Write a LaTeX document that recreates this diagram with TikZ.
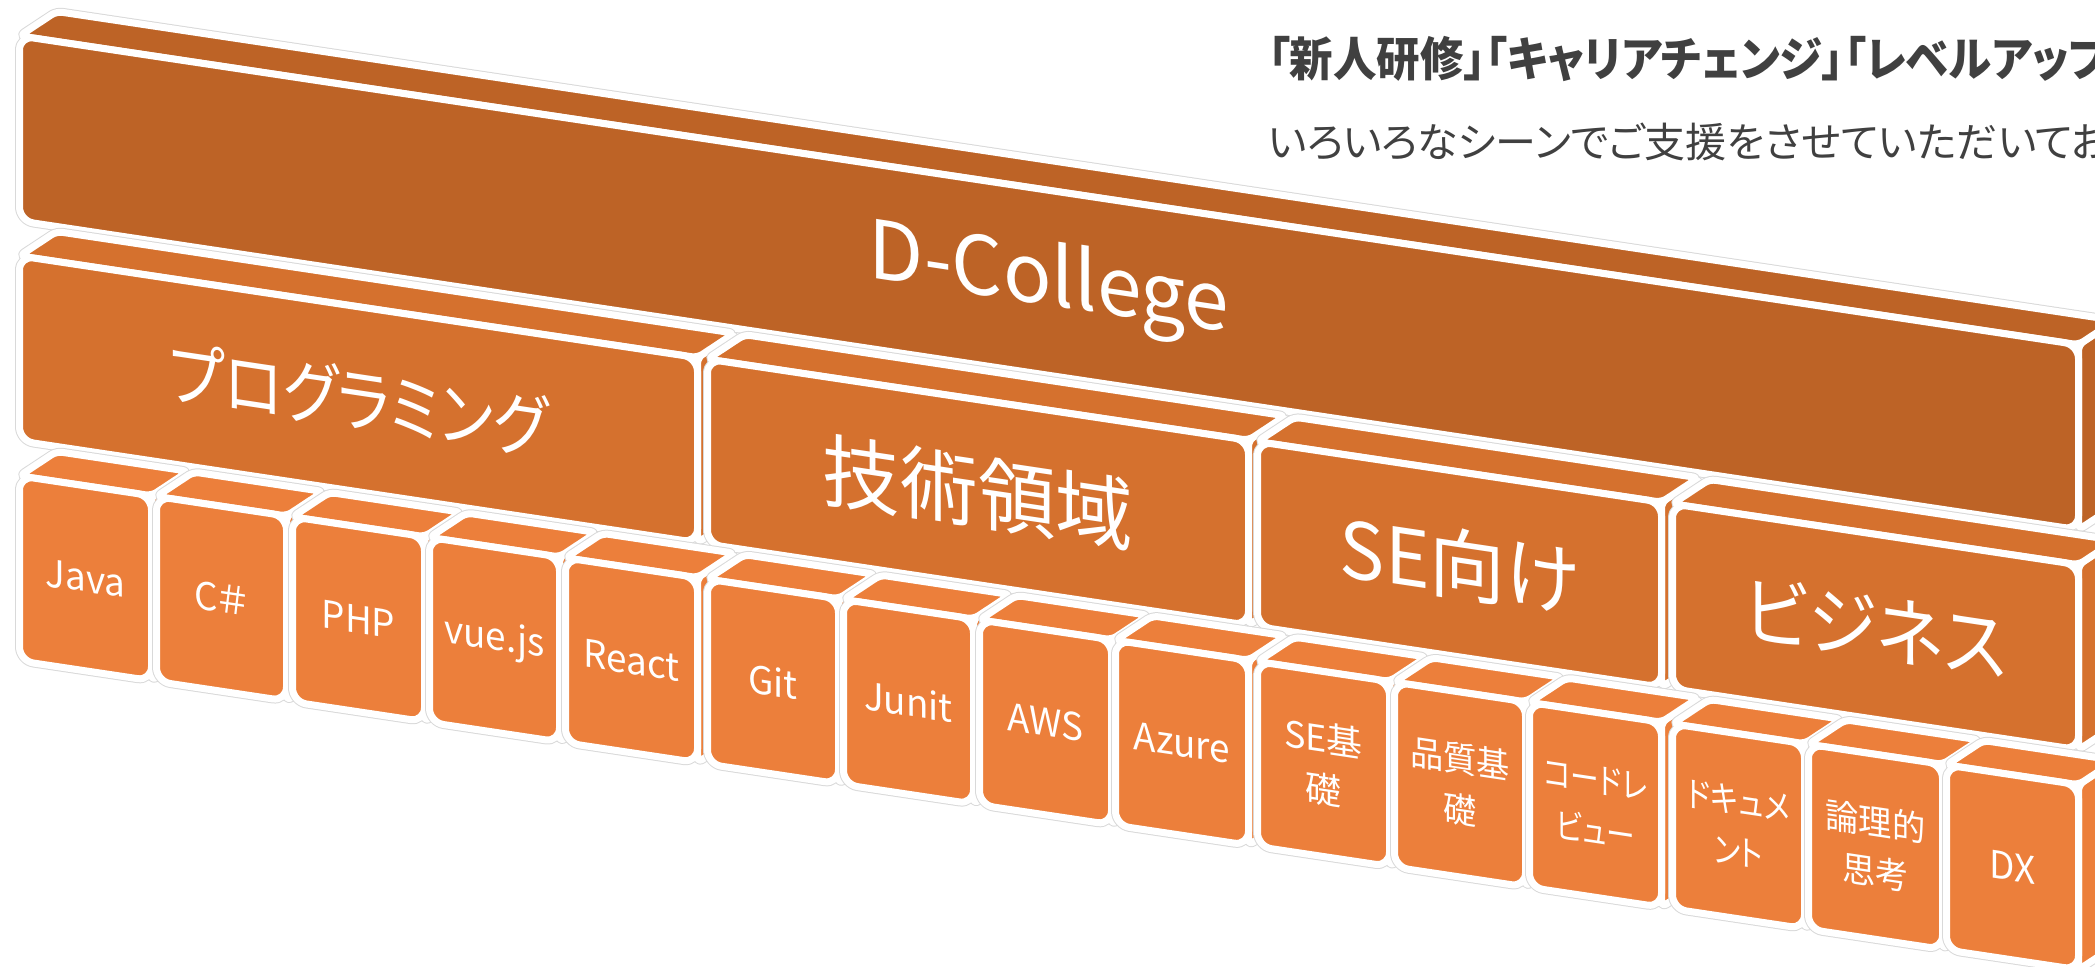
\documentclass[tikz,border=0pt]{standalone}
\usepackage{fontspec}
\newfontfamily\jpfont{Noto Sans CJK JP}[RawFeature={+palt}]
\definecolor{collegebrown}{HTML}{BD6326}
\definecolor{areaorange}{HTML}{D5712E}
\definecolor{courseorange}{HTML}{EC7F3B}
\definecolor{leadgray}{HTML}{404040}

\begin{document}
\begin{tikzpicture}[x=1pt,y=1pt,
  halo/.style={draw=gray!30, line width=9pt, line join=round},
  face/.style={draw=white, line width=7pt, line join=round},
  blocklabel/.style={text=white, align=center, inner sep=0pt, transform shape}]
  \useasboundingbox (0,0) rectangle (2095,-966);
  \clip (0,0) rectangle (2095,-966);

  % Blocks in a sheared frame (verticals stay vertical)
  \begin{scope}[cm={1,-0.15,0,1,(0,0)}]
    \foreach \xa/\xb/\row/\fc/\fs/\sx/\nm/\lbl in {
      23/2075/0/collegebrown/81/0.99/college/{D-College},
      23/694/1/areaorange/70/0.86/prog/{プログラミング},
      711/1245/1/areaorange/80/0.97/tech/{技術領域},
      1261/1658/1/areaorange/78/0.97/se/{SE向け},
      1676/2075/1/areaorange/76/0.92/biz/{ビジネス},
      23/148/2/courseorange/38/0.97/java/{Java},
      160/283/2/courseorange/38/0.97/csharp/{C＃},
      296/421/2/courseorange/38/0.97/php/{PHP},
      433/556/2/courseorange/38/0.97/vue/{vue.js},
      569/694/2/courseorange/38/0.97/react/{React},
      711/835/2/courseorange/38/0.97/git/{Git},
      847/970/2/courseorange/38/0.97/junit/{Junit},
      983/1108/2/courseorange/38/0.97/aws/{AWS},
      1119/1245/2/courseorange/38/0.97/azure/{Azure},
      1261/1386/2/courseorange/36/1/sebase/{SE基\\礎},
      1398/1522/2/courseorange/35/0.95/quality/{品質基\\礎},
      1533/1658/2/courseorange/35/0.82/review/{コードレ\\ビュー},
      1676/1801/2/courseorange/35/0.85/docs/{ドキュメ\\ント},
      1812/1939/2/courseorange/35/0.95/logic/{論理的\\思考},
      1950/2075/2/courseorange/38/0.97/dx/{DX}}
    {
      \pgfmathsetmacro\yt{36.5+220*\row}
      \pgfmathsetmacro\L{\xa-3.5}
      \pgfmathsetmacro\R{\xb+3.5}
      \pgfmathsetmacro\T{-\yt+3.5}
      \pgfmathsetmacro\B{-\yt-181.5}
      % outer hairline
      \path[halo, rounded corners=14pt] (\L,\B) rectangle (\R,\T);
      \path[halo, rounded corners=6pt] (\L,\T) -- (\R,\T) -- (\R+37,\T+30) -- (\L+37,\T+30) -- cycle;
      \path[halo, rounded corners=6pt] (\R,\T) -- (\R+37,\T+30) -- (\R+37,\B+30) -- (\R,\B) -- cycle;
      % side, top and front faces
      \filldraw[face, fill=\fc, rounded corners=6pt] (\R,\T) -- (\R+37,\T+30) -- (\R+37,\B+30) -- (\R,\B) -- cycle;
      \filldraw[face, fill=\fc, rounded corners=6pt] (\L,\T) -- (\R,\T) -- (\R+37,\T+30) -- (\L+37,\T+30) -- cycle;
      \filldraw[face, fill=\fc, rounded corners=14pt] (\L,\B) rectangle (\R,\T);
      \node[blocklabel, shift={({(\xa+\xb)/2},{-\yt-89})}, xscale=\sx,
            font=\jpfont\fontsize{\fs}{51}\selectfont] (\nm) at (0,0) {\lbl};
    }
  \end{scope}

  % Lead text at the top right
  \node[anchor=base west, inner sep=0pt, text=leadgray, font=\jpfont\bfseries\fontsize{47}{47}\selectfont]
    (lead) at (1268,-76) {\scalebox{0.925}[1]{「新人研修」「キャリアチェンジ」「レベルアップ}};
  \node[anchor=base west, inner sep=0pt, text=leadgray, font=\jpfont\fontsize{41}{41}\selectfont]
    (sub) at (1268,-157) {いろいろなシーンでご支援をさせていただいてお};
\end{tikzpicture}
\end{document}
